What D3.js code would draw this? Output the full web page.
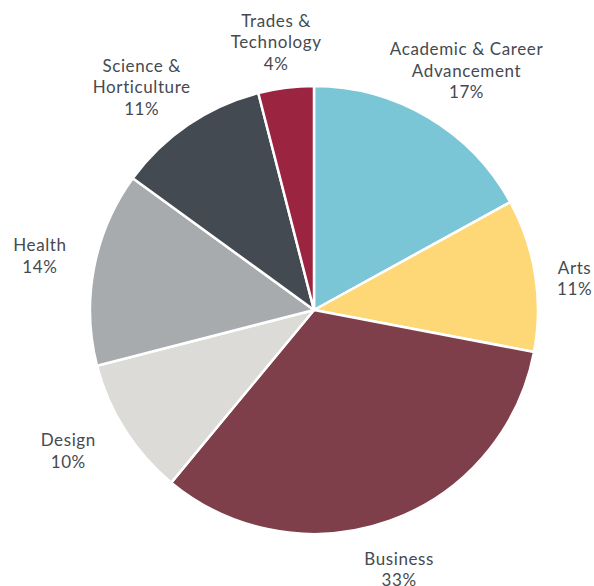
<!DOCTYPE html>
<html>
<head>
<meta charset="utf-8">
<script src="https://cdn.jsdelivr.net/npm/d3@7"></script>
<style>
  body { margin: 0; background: #fff; }
  .label { font-family: Lato, 'Noto Sans', sans-serif; font-size: 17px; letter-spacing: 0.6px; fill: #454a50; }
</style>
</head>
<body>
<svg></svg>
<script>
var categories = ['Academic & Career Advancement', 'Arts', 'Business', 'Design', 'Health', 'Science & Horticulture', 'Trades & Technology'];
var labelLines = [['Academic & Career', 'Advancement'], ['Arts'], ['Business'], ['Design'], ['Health'], ['Science &', 'Horticulture'], ['Trades &', 'Technology']];
var shares = [17, 11, 33, 10, 14, 11, 4];
var colors = ['#7bc6d6', '#fed877', '#7e3f4a', '#dcdbd8', '#a7abae', '#434a52', '#9b2540'];

var width = 594;
var height = 586;
var cx = 314, cy = 310;
var radius = 224;
var labelRadius = 278;
var lineHeight = 21.5;

// small hand nudges so labels sit where the original put them
var labelNudge = [[11, 0], [-14, 12], [-9, -2], [-11, -8], [-1, -2], [-16, 7], [-3, 8]];

var data = categories.map((c, i) => ({ category: c, lines: labelLines[i], value: shares[i], color: colors[i], nudge: labelNudge[i] }));

var pie = d3.pie()
  .sort(null)
  .value(d => d.value);

var arc = d3.arc()
  .innerRadius(0)
  .outerRadius(radius);

var labelArc = d3.arc()
  .innerRadius(labelRadius)
  .outerRadius(labelRadius);

var svg = d3.select('svg')
  .attr('width', width)
  .attr('height', height);

var g = svg.append('g')
  .attr('transform', `translate(${cx},${cy})`);

var arcs = pie(data);

g.selectAll('.slice')
  .data(arcs)
  .enter()
  .append('path')
  .classed('slice', true)
  .attr('d', arc)
  .attr('fill', d => d.data.color)
  .attr('stroke', '#fff')
  .attr('stroke-width', 2.5)
  .attr('stroke-linejoin', 'round');

var labels = g.selectAll('.label')
  .data(arcs)
  .enter()
  .append('text')
  .classed('label', true)
  .attr('text-anchor', 'middle')
  .attr('transform', d => {
    var c = labelArc.centroid(d);
    return `translate(${c[0] + d.data.nudge[0]},${c[1] + d.data.nudge[1]})`;
  });

labels.each(function(d) {
  var lines = d.data.lines.concat([d.data.value + '%']);
  var top = -(lines.length - 1) * lineHeight / 2;
  var t = d3.select(this);
  lines.forEach((line, i) => {
    t.append('tspan')
      .attr('x', 0)
      .attr('y', top + i * lineHeight)
      .attr('dy', '0.35em')
      .text(line);
  });
});
</script>
</body>
</html>
